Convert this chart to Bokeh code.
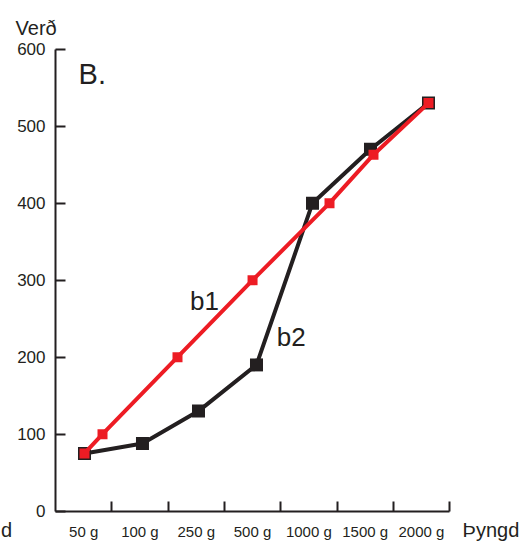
from bokeh.plotting import figure
from bokeh.models import Range1d, FixedTicker, Label
from bokeh.embed import file_html
from bokeh.resources import INLINE

# ---- data ----
categories = ["50 g", "100 g", "250 g", "500 g", "1000 g", "1500 g", "2000 g"]
cat_pos = [0.5, 1.5, 2.5, 3.5, 4.5, 5.5, 6.5]
cat_bounds = [1, 2, 3, 4, 5, 6, 7]

b1_x = [0.515, 0.835, 2.167, 3.5, 4.867, 5.648, 6.625]
b1_y = [75, 100, 200, 300, 400, 463, 530]

b2_x = [0.515, 1.545, 2.54, 3.57, 4.565, 5.595, 6.625]
b2_y = [75, 88, 130, 190, 400, 470, 530]

y_ticks = [0, 100, 200, 300, 400, 500, 600]

RED = "#ED1C24"
BLACK = "#231F20"
FONT = "'Liberation Sans Narrow', 'Liberation Sans', Arial, sans-serif"
FONT2 = "'Liberation Sans', Arial, sans-serif"

W, H = 531, 544
# pixel mapping of reference: px = 55 + 56.3*v ; py = 510.7 - 0.77*val
x0, x1 = (0 - 55) / 56.3, (W - 55) / 56.3
y0, y1 = (510.7 - H) / 0.77, (510.7 - 0) / 0.77

p = figure(width=W, height=H,
           x_range=Range1d(x0, x1), y_range=Range1d(y0, y1),
           output_backend="svg", toolbar_location=None,
           min_border_left=0, min_border_right=0,
           min_border_top=0, min_border_bottom=0)
p.outline_line_color = None
p.grid.visible = False
p.background_fill_color = "white"
p.border_fill_color = "white"

# axes
xa = p.xaxis[0]
xa.fixed_location = 0
xa.bounds = (0, 7)
xa.ticker = FixedTicker(ticks=cat_pos, minor_ticks=cat_bounds)
xa.major_label_overrides = {float(k): v for k, v in zip(cat_pos, categories)}
xa.major_tick_in = 0
xa.major_tick_out = 0
xa.minor_tick_in = 10
xa.minor_tick_out = 0
xa.minor_tick_line_width = 2
xa.minor_tick_line_color = BLACK
xa.major_label_standoff = 12
xa.major_label_text_font = FONT
xa.major_label_text_font_size = "15px"
xa.major_label_text_color = BLACK

ya = p.yaxis[0]
ya.fixed_location = 0
ya.bounds = (0, 600)
ya.ticker = FixedTicker(ticks=y_ticks)
ya.minor_tick_line_color = None
ya.major_tick_in = 10
ya.major_tick_out = 0
ya.major_tick_line_width = 2
ya.major_tick_line_color = BLACK
ya.major_label_standoff = 10
ya.major_label_text_font = FONT2
ya.major_label_text_font_size = "17px"
ya.major_label_text_color = BLACK

for ax in (xa, ya):
    ax.axis_line_width = 2
    ax.axis_line_color = BLACK

# series
p.line(b2_x, b2_y, line_color=BLACK, line_width=4)
p.scatter(b2_x, b2_y, marker="square", size=13, fill_color=BLACK, line_color=BLACK, line_width=0)
p.line(b1_x, b1_y, line_color=RED, line_width=4)
p.scatter(b1_x, b1_y, marker="square", size=10, fill_color=RED, line_color=RED, line_width=0)

# texts
def lab(txt, x, y, size, font=FONT2):
    p.add_layout(Label(x=x, y=y, text=txt, text_font=font, text_font_size=size,
                       text_color=BLACK, text_baseline="alphabetic", text_align="left"))

lab("Verð", -0.71, 627, "20px")
lab("B.", 0.41, 568, "29px", FONT)
lab("b1", 2.39, 273, "26px", FONT)
lab("b2", 3.93, 226, "26px", FONT)
lab("Þyngd", 7.23, -24, "20px")
lab("d", -0.97, -24, "20px")

open("out.html", "w").write(file_html(p, INLINE))
